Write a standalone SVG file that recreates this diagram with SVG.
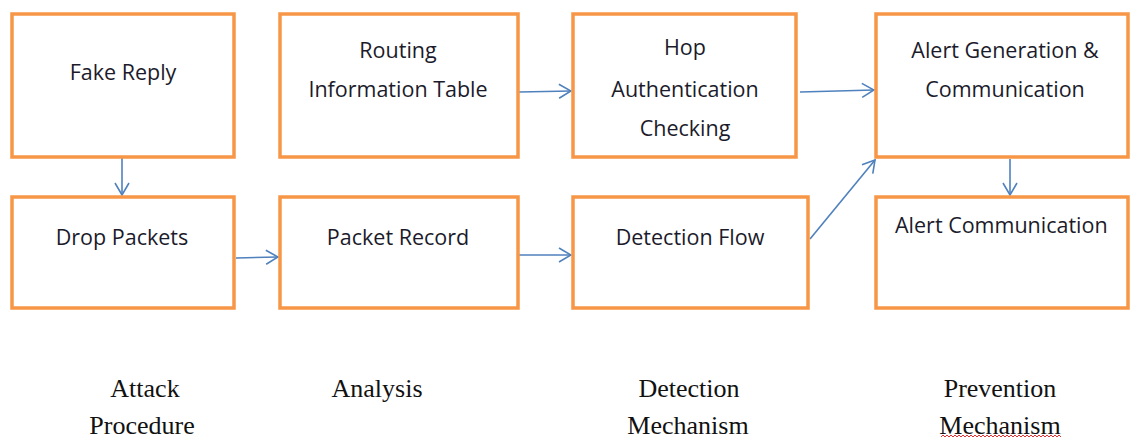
<svg xmlns="http://www.w3.org/2000/svg" width="1130" height="439" viewBox="0 0 1130 439">
<style>
.box{fill:#fff;stroke:#F79646;stroke-width:3.5}
.t{font-family:"Open Sans","Liberation Sans",sans-serif;font-size:21.5px;fill:#1b1b2b;text-anchor:middle}
.lab{font-family:"Liberation Serif",serif;font-size:26px;fill:#111;text-anchor:middle}
.c{stroke:#4F81BD;stroke-width:1.6;fill:none;marker-end:url(#ah)}
</style>
<defs>
<marker id="ah" viewBox="0 0 14 16" refX="13" refY="8" markerWidth="14" markerHeight="16" markerUnits="userSpaceOnUse" orient="auto">
<path d="M1,1 L13,8 L1,15" fill="none" stroke="#4F81BD" stroke-width="1.6"/>
</marker>
</defs>
<rect width="1130" height="439" fill="#fff"/>
<g id="connectors">
<line class="c" x1="122" y1="158" x2="122" y2="195"/>
<line class="c" x1="236" y1="258" x2="278" y2="257"/>
<line class="c" x1="519" y1="92" x2="571" y2="91"/>
<line class="c" x1="519" y1="255" x2="571" y2="255"/>
<line class="c" x1="800" y1="92" x2="874" y2="90"/>
<line class="c" x1="810" y1="239" x2="875" y2="160"/>
<line class="c" x1="1010" y1="159" x2="1010" y2="195"/>
</g>
<g id="fake-reply"><rect class="box" x="12" y="14" width="222" height="143"/><text class="t" x="123" y="80">Fake Reply</text></g>
<g id="drop-packets"><rect class="box" x="12" y="197" width="222" height="111"/><text class="t" x="122" y="245">Drop Packets</text></g>
<g id="routing"><rect class="box" x="280" y="14" width="238" height="143"/><text class="t" x="398" y="58">Routing</text><text class="t" x="398" y="97">Information Table</text></g>
<g id="packet-record"><rect class="box" x="280" y="197" width="238" height="111"/><text class="t" x="398" y="245">Packet Record</text></g>
<g id="hop"><rect class="box" x="573" y="14" width="223" height="143"/><text class="t" x="685" y="55">Hop</text><text class="t" x="685" y="97">Authentication</text><text class="t" x="685" y="136">Checking</text></g>
<g id="detection-flow"><rect class="box" x="573" y="197" width="235" height="111"/><text class="t" x="690" y="245">Detection Flow</text></g>
<g id="alert-gen"><rect class="box" x="876" y="14" width="252" height="143"/><text class="t" x="1005" y="58">Alert Generation &amp;</text><text class="t" x="1005" y="97">Communication</text></g>
<g id="alert-comm"><rect class="box" x="876" y="197" width="252" height="111"/><text class="t" x="895" y="233" style="text-anchor:start">Alert Communication</text></g>
<g id="labels">
<text class="lab" x="145" y="397">Attack</text>
<text class="lab" x="142" y="434">Procedure</text>
<text class="lab" x="377" y="397">Analysis</text>
<text class="lab" x="689" y="397">Detection</text>
<text class="lab" x="688" y="434">Mechanism</text>
<text class="lab" x="1000" y="397">Prevention</text>
<text class="lab" x="1000" y="434">Mechanism</text>
<path d="M941,437 l2,-2 l2,2 l2,-2 l2,2 l2,-2 l2,2 l2,-2 l2,2 l2,-2 l2,2 l2,-2 l2,2 l2,-2 l2,2 l2,-2 l2,2 l2,-2 l2,2 l2,-2 l2,2 l2,-2 l2,2 l2,-2 l2,2 l2,-2 l2,2 l2,-2 l2,2 l2,-2 l2,2 l2,-2 l2,2 l2,-2 l2,2 l2,-2 l2,2 l2,-2 l2,2 l2,-2 l2,2 l2,-2 l2,2 l2,-2 l2,2 l2,-2 l2,2 l2,-2 l2,2 l2,-2 l2,2 l2,-2 l2,2 l2,-2 l2,2 l2,-2 l2,2 l2,-2 l2,2 l2,-2 l2,2" fill="none" stroke="#e03030" stroke-width="1"/>
</g>
</svg>
